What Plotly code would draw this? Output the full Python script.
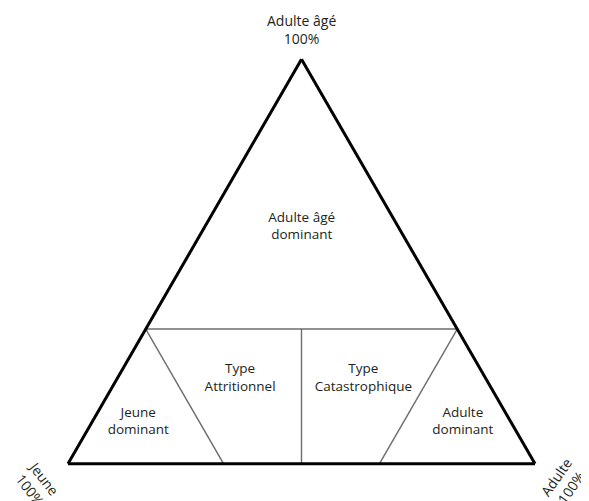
'''
    Ternary diagram of mortality profiles (Jeune / Adulte / Adulte âgé).
'''
import plotly.graph_objects as go

# boundary lines of the zones, as (a, b, c) percentages
# a = Adulte âgé (top), b = Jeune (left), c = Adulte (right)
line_a = [[33.3, 33.3], [33.3, 0], [33.3, 0], [33.3, 0]]
line_b = [[66.7, 0], [66.7, 66.7], [0, 33.3], [33.3, 50]]
line_c = [[0, 66.7], [0, 33.3], [66.7, 66.7], [33.3, 50]]

# zone labels
zone_labels = ['Adulte âgé<br>dominant', 'Type<br>Attritionnel', 'Type<br>Catastrophique',
               'Jeune<br>dominant', 'Adulte<br>dominant']
label_a = [58.5, 21.1, 21.1, 10.3, 10.3]
label_b = [20.7, 52.6, 26.2, 79.8, 10.3]
label_c = [20.8, 26.3, 52.7, 9.9, 79.4]

TEXT_COLOR = '#231f20'
FONT = 'Open Sans'

# the page adds an 8px body margin
PAGE_OFF = 8
# plot area in pixels (figure coords)
L, T = 60, 50
W, H = 467, 407
R, B = 589 - L - W, 501 - T - H


def px_to_paper(x, y):
    # x, y given in page pixels
    return (x - PAGE_OFF - L) / W, 1 - (y - PAGE_OFF - T) / H


fig = go.Figure()

for a, b, c in zip(line_a, line_b, line_c):
    fig.add_trace(go.Scatterternary(
        a=a, b=b, c=c, mode='lines',
        line=dict(color='#6d6d6d', width=1.4),
        hoverinfo='skip', showlegend=False,
    ))

fig.add_trace(go.Scatterternary(
    a=label_a, b=label_b, c=label_c, mode='text',
    text=zone_labels, textposition='middle center',
    textfont=dict(family=FONT, size=13.5, color=TEXT_COLOR),
    hoverinfo='skip', showlegend=False,
))

axis_style = dict(
    showticklabels=False, ticks='', showgrid=False,
    linecolor='black', linewidth=3, title=dict(text=''),
)

corner_labels = [
    ('Adulte âgé<br>100%', 301, 29, 0),
    ('Jeune<br>100%', 37, 483, 52),
    ('Adulte<br>100%', 563, 482, -55),
]
annotations = []
for text, x, y, angle in corner_labels:
    px_, py_ = px_to_paper(x, y)
    annotations.append(dict(
        text=text, x=px_, y=py_, xref='paper', yref='paper',
        showarrow=False, textangle=angle,
        xanchor='center', yanchor='middle',
        font=dict(family=FONT, size=14, color=TEXT_COLOR),
    ))

fig.update_layout(
    width=589, height=501,
    margin=dict(l=L, r=R, t=T, b=B),
    paper_bgcolor='white',
    ternary=dict(
        sum=100,
        bgcolor='white',
        domain=dict(x=[0, 1], y=[0, 1]),
        aaxis=axis_style, baxis=axis_style, caxis=axis_style,
    ),
    annotations=annotations,
    showlegend=False,
)

fig.write_html('out.html')
